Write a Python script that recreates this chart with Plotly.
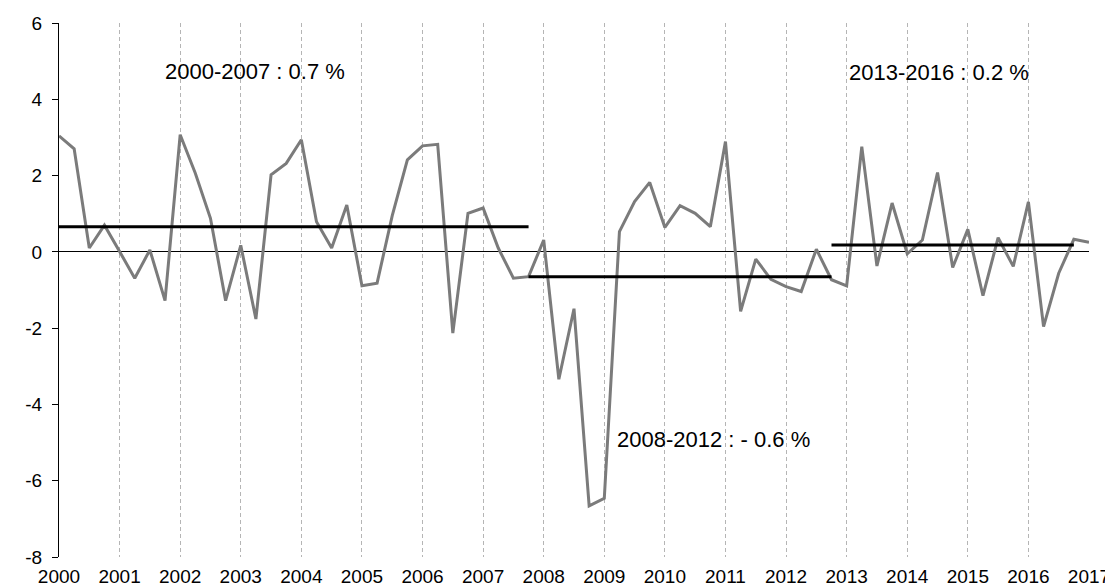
import plotly.graph_objects as go

# Quarterly growth rates (%), 2000Q1 .. 2017Q1
start_year = 2000
values = [
    3.04, 2.70, 0.10, 0.70,      # 2000
    0.01, -0.69, 0.05, -1.28,    # 2001
    3.07, 2.06, 0.88, -1.28,     # 2002
    0.17, -1.76, 2.02, 2.32,     # 2003
    2.94, 0.79, 0.10, 1.23,      # 2004
    -0.89, -0.82, 0.95, 2.41,    # 2005
    2.78, 2.82, -2.13, 1.01,     # 2006
    1.15, 0.10, -0.69, -0.65,    # 2007
    0.31, -3.34, -1.49, -6.66,   # 2008
    -6.46, 0.53, 1.32, 1.82,     # 2009
    0.64, 1.21, 1.01, 0.66,      # 2010
    2.89, -1.56, -0.19, -0.72,   # 2011
    -0.91, -1.04, 0.07, -0.73,   # 2012
    -0.89, 2.76, -0.37, 1.28,    # 2013
    -0.05, 0.31, 2.08, -0.41,    # 2014
    0.59, -1.15, 0.37, -0.38,    # 2015
    1.31, -1.96, -0.56, 0.33,    # 2016
    0.25,                        # 2017
]
x_time = [start_year + i / 4 for i in range(len(values))]

# Period averages
period_labels = ["2000-2007 : 0.7 %", "2008-2012 : - 0.6 %", "2013-2016 : 0.2 %"]
period_start = [2000.0, 2007.75, 2012.75]
period_end = [2007.75, 2012.75, 2016.75]
period_mean = [0.66, -0.65, 0.18]
label_x = [2003.23, 2010.8, 2014.53]
label_y = [4.72, -4.93, 4.69]

year_ticks = list(range(2000, 2018))
year_labels = [str(y) for y in year_ticks]
y_ticks = [-8, -6, -4, -2, 0, 2, 4, 6]

FONT = "Liberation Sans, Arial, Helvetica, sans-serif"

fig = go.Figure()

fig.add_trace(go.Scatter(
    x=x_time, y=values, mode="lines",
    line=dict(color="#7b7b7b", width=3),
    showlegend=False, hoverinfo="skip",
))

for s, e, m in zip(period_start, period_end, period_mean):
    fig.add_trace(go.Scatter(
        x=[s, e], y=[m, m], mode="lines",
        line=dict(color="#000000", width=3),
        showlegend=False, hoverinfo="skip",
    ))

for t, lx, ly in zip(period_labels, label_x, label_y):
    fig.add_annotation(
        x=lx, y=ly, text=t, showarrow=False,
        font=dict(family=FONT, size=22, color="#000000"),
        xanchor="center", yanchor="middle",
    )

# page body adds an 8px offset; margins compensate so the plot area
# lands at x 59..1089, y 23..557 in the screenshot
fig.update_layout(
    width=1113, height=585,
    margin=dict(l=51, r=32, t=15, b=36),
    paper_bgcolor="white", plot_bgcolor="white",
    font=dict(family=FONT, size=19, color="#000000"),
    showlegend=False,
)

fig.update_xaxes(
    range=[2000, 2017], automargin=False,
    tickmode="array", tickvals=year_ticks, ticktext=year_labels,
    showgrid=True, gridcolor="#b5b5b5", gridwidth=1, griddash="4px,3px",
    showline=False, zeroline=False, ticks="",
    ticklabelstandoff=6,
    tickfont=dict(family=FONT, size=19, color="#000000"),
)

fig.update_yaxes(
    range=[-8, 6], automargin=False,
    tickmode="array", tickvals=y_ticks, ticktext=[str(v) for v in y_ticks],
    showgrid=False,
    showline=True, linecolor="#000000", linewidth=1,
    ticks="outside", ticklen=6, tickcolor="#000000", tickwidth=1,
    ticklabelstandoff=6,
    zeroline=True, zerolinecolor="#000000", zerolinewidth=1,
    tickfont=dict(family=FONT, size=19, color="#000000"),
)

fig.write_html("out.html")
